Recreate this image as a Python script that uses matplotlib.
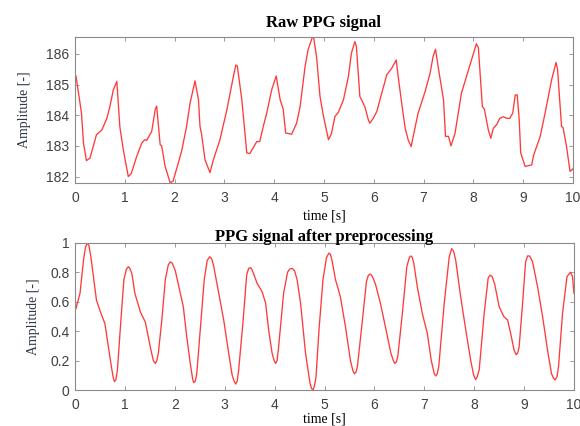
import matplotlib
matplotlib.use("Agg")
import matplotlib.pyplot as plt
from matplotlib.ticker import FuncFormatter

# ---- data ----
raw_t = [0.02, 0.13, 0.17, 0.23, 0.30, 0.43, 0.54, 0.64, 0.70, 0.77, 0.84, 0.90, 0.97,
         1.07, 1.13, 1.24, 1.34, 1.40, 1.44, 1.54, 1.61, 1.64, 1.71, 1.74, 1.81, 1.91, 1.97,
         2.14, 2.24, 2.31, 2.41, 2.48, 2.51, 2.54, 2.61, 2.71, 2.78, 2.91,
         3.05, 3.18, 3.23, 3.26, 3.35, 3.45, 3.51, 3.65, 3.71, 3.78, 3.85, 3.95,
         4.04, 4.12, 4.18, 4.23, 4.35, 4.45, 4.52, 4.62, 4.68, 4.77, 4.79, 4.85, 4.92, 4.99,
         5.09, 5.15, 5.22, 5.29, 5.39, 5.49, 5.55, 5.62, 5.65, 5.72, 5.74, 5.82, 5.89, 5.92, 5.99,
         6.06, 6.16, 6.26, 6.36, 6.45, 6.49, 6.56, 6.63, 6.69, 6.75, 6.79, 6.89,
         7.03, 7.13, 7.19, 7.24, 7.29, 7.40, 7.44, 7.50, 7.55, 7.63, 7.76, 7.86, 7.96,
         8.06, 8.10, 8.18, 8.22, 8.30, 8.35, 8.40, 8.47, 8.53, 8.60, 8.67, 8.73, 8.79, 8.84, 8.88,
         8.92, 8.95, 9.04, 9.17, 9.21, 9.27, 9.34, 9.44, 9.57, 9.66, 9.69, 9.77, 9.80, 9.87, 9.94, 10.0]
raw_v = [185.28, 184.07, 183.09, 182.52, 182.60, 183.36, 183.52, 183.90, 184.28, 184.83, 185.10, 183.63, 182.87,
         182.00, 182.10, 182.66, 183.09, 183.20, 183.18, 183.47, 184.18, 184.30, 183.04, 183.00, 182.33, 181.80, 181.85,
         182.82, 183.63, 184.39, 185.12, 184.50, 183.63, 183.40, 182.55, 182.13, 182.55, 183.20,
         184.18, 185.26, 185.64, 185.60, 184.50, 182.77, 182.75, 183.14, 183.14, 183.63, 184.07, 184.83,
         185.28, 184.50, 184.20, 183.42, 183.38, 183.74, 184.28, 185.59, 186.13, 186.56, 186.56, 185.91, 184.61, 183.96,
         183.20, 183.40, 183.96, 184.10, 184.50, 185.26, 186.02, 186.40, 186.25, 184.61, 184.55, 184.28, 183.85, 183.74, 183.90,
         184.12, 184.72, 185.32, 185.53, 185.80, 185.26, 184.39, 183.58, 183.20, 182.98, 183.30, 184.07,
         184.77, 185.37, 185.91, 186.15, 185.60, 184.50, 183.31, 183.31, 183.00, 183.40, 184.72, 185.26, 185.80,
         186.33, 186.20, 184.28, 184.20, 183.52, 183.25, 183.57, 183.70, 183.90, 183.95, 183.90, 183.90, 184.07, 184.66, 184.66,
         183.85, 182.77, 182.33, 182.38, 182.70, 182.98, 183.30, 184.07, 185.15, 185.72, 185.50, 183.63, 183.60, 182.98, 182.17, 182.25]

pre_t = [0.02, 0.10, 0.17, 0.21, 0.25, 0.28, 0.32, 0.37, 0.43, 0.50, 0.60, 0.67, 0.74, 0.77, 0.79, 0.82, 0.85, 0.92, 0.98,
         1.03, 1.07, 1.10, 1.14, 1.20, 1.31, 1.41, 1.51, 1.57, 1.61, 1.64, 1.67, 1.74, 1.81, 1.87, 1.91, 1.95,
         2.01, 2.11, 2.17, 2.24, 2.31, 2.36, 2.38, 2.41, 2.44, 2.51, 2.59, 2.65, 2.70, 2.74, 2.78, 2.88, 2.98,
         3.08, 3.15, 3.18, 3.22, 3.25, 3.28, 3.37, 3.44, 3.48, 3.52, 3.55, 3.65, 3.75, 3.82, 3.88, 3.95,
         3.99, 4.02, 4.05, 4.08, 4.18, 4.26, 4.30, 4.35, 4.40, 4.45, 4.52, 4.62, 4.71, 4.74, 4.77, 4.80, 4.83, 4.89, 4.97,
         5.04, 5.09, 5.12, 5.15, 5.22, 5.32, 5.42, 5.52, 5.57, 5.60, 5.63, 5.66, 5.76, 5.84, 5.88, 5.92, 5.96,
         6.02, 6.12, 6.22, 6.33, 6.38, 6.41, 6.44, 6.47, 6.56, 6.65, 6.70, 6.73, 6.76, 6.79, 6.86, 6.96,
         7.06, 7.14, 7.20, 7.23, 7.26, 7.29, 7.40, 7.50, 7.55, 7.59, 7.63, 7.73, 7.83, 7.93,
         7.99, 8.03, 8.06, 8.10, 8.20, 8.28, 8.32, 8.36, 8.41, 8.50, 8.59, 8.67, 8.73, 8.80, 8.84, 8.87, 8.90, 8.97,
         9.03, 9.07, 9.11, 9.17, 9.27, 9.37, 9.47, 9.55, 9.59, 9.62, 9.66, 9.69, 9.77, 9.86, 9.93, 9.97, 10.0]
pre_v = [0.554, 0.656, 0.88, 0.97, 1.0, 0.98, 0.90, 0.77, 0.61, 0.54, 0.45, 0.29, 0.136, 0.08, 0.057, 0.07, 0.136, 0.475, 0.75,
         0.82, 0.837, 0.825, 0.79, 0.656, 0.53, 0.46, 0.29, 0.20, 0.18, 0.20, 0.25, 0.475, 0.75, 0.85, 0.87, 0.86,
         0.81, 0.656, 0.566, 0.36, 0.18, 0.07, 0.05, 0.06, 0.11, 0.41, 0.75, 0.88, 0.905, 0.89, 0.84, 0.656, 0.475,
         0.25, 0.10, 0.068, 0.04, 0.06, 0.136, 0.475, 0.78, 0.826, 0.83, 0.815, 0.724, 0.667, 0.59, 0.41, 0.25,
         0.20, 0.18, 0.20, 0.29, 0.656, 0.80, 0.82, 0.826, 0.81, 0.75, 0.59, 0.25, 0.045, 0.01, 0.0, 0.03, 0.09, 0.41, 0.75,
         0.90, 0.93, 0.92, 0.88, 0.75, 0.63, 0.43, 0.20, 0.13, 0.11, 0.12, 0.16, 0.475, 0.735, 0.78, 0.787, 0.77,
         0.72, 0.59, 0.43, 0.25, 0.20, 0.18, 0.19, 0.23, 0.52, 0.837, 0.90, 0.91, 0.90, 0.86, 0.70, 0.52,
         0.385, 0.20, 0.11, 0.095, 0.11, 0.16, 0.59, 0.905, 0.96, 0.94, 0.88, 0.63, 0.41, 0.20,
         0.10, 0.07, 0.09, 0.136, 0.52, 0.76, 0.78, 0.77, 0.72, 0.566, 0.50, 0.475, 0.385, 0.27, 0.24, 0.25, 0.29, 0.59,
         0.87, 0.91, 0.91, 0.87, 0.70, 0.50, 0.27, 0.11, 0.08, 0.068, 0.09, 0.16, 0.52, 0.77, 0.80, 0.77, 0.656]

x_ticks = list(range(0, 11))
raw_yticks = [182, 183, 184, 185, 186]
pre_yticks = [0, 0.2, 0.4, 0.6, 0.8, 1.0]

# ---- figure ----
fig = plt.figure(figsize=(5.8, 4.26), dpi=100)
ax1 = fig.add_axes([75/580, 1-182.7/426, (573-75)/580, (182.7-36.7)/426])
ax2 = fig.add_axes([75/580, 1-390/426, (574-75)/580, (390-242.7)/426])

line_color = "#ff3a3a"
tick_font = "Liberation Sans"
serif = "Liberation Serif"

for ax in (ax1, ax2):
    for s in ax.spines.values():
        s.set_color("#8a8a8a")
        s.set_linewidth(0.8)
    ax.tick_params(direction="in", length=3, width=0.6, color="#8a8a8a",
                   top=True, right=True, labelsize=10, labelcolor="#404040")
    ax.tick_params(axis="x", pad=6)
    ax.tick_params(axis="y", pad=4)

ax1.plot(raw_t, raw_v, color=line_color, lw=0.95)
ax1.set_xlim(0, 10)
ax1.set_ylim(181.8, 186.56)
ax1.set_xticks(x_ticks)
ax1.set_yticks(raw_yticks)
ax1.set_title("Raw PPG signal", fontfamily=serif, fontweight="bold", fontsize=12, pad=7)
ax1.set_xlabel("time [s]", fontfamily=serif, fontsize=10, labelpad=3)
ax1.set_ylabel("Amplitude [-]", fontfamily=serif, fontsize=10, color="#30384a", labelpad=11)

ax2.plot(pre_t, pre_v, color=line_color, lw=0.95)
ax2.set_xlim(0, 10)
ax2.set_ylim(0, 1)
ax2.set_xticks(x_ticks)
ax2.set_yticks(pre_yticks)
ax2.yaxis.set_major_formatter(FuncFormatter(lambda v, p: f"{v:g}"))
ax2.set_title("PPG signal after preprocessing", fontfamily=serif, fontweight="bold", fontsize=12, pad=1)
ax2.set_xlabel("time [s]", fontfamily=serif, fontsize=10, labelpad=0)
ax2.set_ylabel("Amplitude [-]", fontfamily=serif, fontsize=10, color="#30384a", labelpad=7)

for ax in (ax1, ax2):
    for lab in ax.get_xticklabels() + ax.get_yticklabels():
        lab.set_fontfamily(tick_font)

fig.savefig("out.png", dpi=100, facecolor="white")
